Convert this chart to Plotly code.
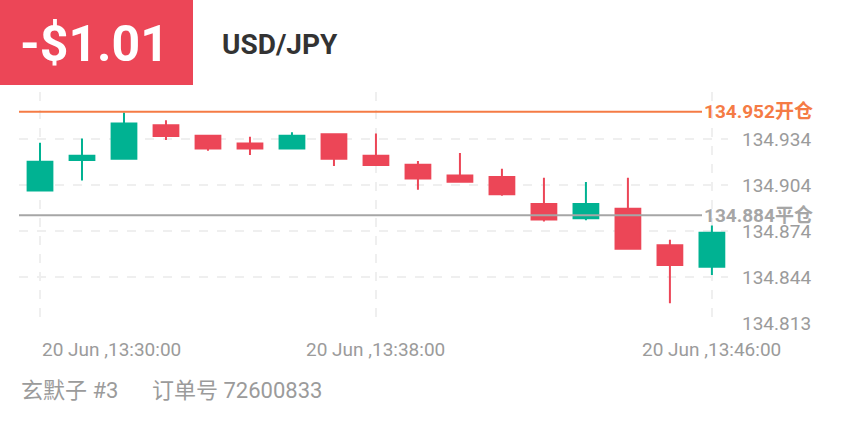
import plotly.graph_objects as go

# ---- data ----
times = ["2023-06-20 13:30", "2023-06-20 13:31", "2023-06-20 13:32", "2023-06-20 13:33",
         "2023-06-20 13:34", "2023-06-20 13:35", "2023-06-20 13:36", "2023-06-20 13:37",
         "2023-06-20 13:38", "2023-06-20 13:39", "2023-06-20 13:40", "2023-06-20 13:41",
         "2023-06-20 13:42", "2023-06-20 13:43", "2023-06-20 13:44", "2023-06-20 13:45",
         "2023-06-20 13:46"]
open_ = [134.9003, 134.9203, 134.9212, 134.9431, 134.9362, 134.9312, 134.9279, 134.9373,
         134.9231, 134.9172, 134.9101, 134.9092, 134.8914, 134.8820, 134.8883, 134.8644, 134.8503]
high = [134.9316, 134.9345, 134.9515, 134.9464, 134.9362, 134.9355, 134.9386, 134.9373,
        134.9377, 134.9196, 134.9249, 134.9146, 134.9086, 134.9058, 134.9086, 134.8679, 134.8773]
low = [134.8996, 134.9068, 134.9212, 134.9335, 134.9264, 134.9236, 134.9279, 134.9164,
       134.9164, 134.9007, 134.9061, 134.8968, 134.8799, 134.8807, 134.8616, 134.8262, 134.8448]
close = [134.9192, 134.9231, 134.9442, 134.9360, 134.9279, 134.9279, 134.9362, 134.9211,
         134.9170, 134.9081, 134.9061, 134.8979, 134.8812, 134.8914, 134.8620, 134.8514, 134.8725]

y_tickvals = [134.8133, 134.8435, 134.8737, 134.9039, 134.9341, 134.9643]
y_ticktext = ["134.813", "134.844", "134.874", "134.904", "134.934", ""]
x_tickvals = ["2023-06-20 13:30", "2023-06-20 13:38", "2023-06-20 13:46"]
x_ticktext = ["20 Jun ,13:30:00", "20 Jun ,13:38:00", "20 Jun ,13:46:00"]

open_level = 134.952
close_level = 134.884
open_label = "134.952开仓"
close_label = "134.884平仓"
pnl_text = "-$1.01"
symbol_text = "USD/JPY"
footer_left = "玄默子 #3"
footer_right = "订单号 72600833"

GREEN = "#00B292"
RED = "#EC4657"
ORANGE = "#F57B45"
GRAYLINE = "#A6A6A6"
TXT = "#9B9B9B"
GRID = "#EFEFEF"
FONT = "Roboto, 'Noto Sans CJK SC', sans-serif"

fig = go.Figure()
fig.add_trace(go.Candlestick(
    x=times, open=open_, high=high, low=low, close=close,
    increasing=dict(line=dict(color=GREEN, width=2), fillcolor=GREEN),
    decreasing=dict(line=dict(color=RED, width=2), fillcolor=RED),
    whiskerwidth=0, showlegend=False, hoverinfo="skip",
))

W, H = 844, 422
L, R, T, B = 19, 116, 92, 98
pw, ph = W - L - R, H - T - B


def px_x(px):
    return (px - L) / pw


def px_y(py):
    return (H - B - py) / ph


shapes = [
    dict(type="rect", xref="paper", yref="paper", x0=px_x(0), x1=px_x(193),
         y0=px_y(85), y1=px_y(0), fillcolor=RED, line=dict(width=0), layer="below"),
    dict(type="line", xref="paper", yref="y", x0=0, x1=px_x(702),
         y0=open_level, y1=open_level, line=dict(color=ORANGE, width=2)),
    dict(type="line", xref="paper", yref="y", x0=0, x1=px_x(702),
         y0=close_level, y1=close_level, line=dict(color=GRAYLINE, width=2)),
]

annotations = [
    dict(text=pnl_text, xref="paper", yref="paper", x=px_x(18), y=px_y(44),
         xanchor="left", yanchor="middle", showarrow=False,
         font=dict(family=FONT, size=50, color="white", weight="bold")),
    dict(text=symbol_text, xref="paper", yref="paper", x=px_x(220), y=px_y(44),
         xanchor="left", yanchor="middle", showarrow=False,
         font=dict(family=FONT, size=28, color="#333333", weight="bold")),
    dict(text=open_label, xref="paper", yref="y", x=px_x(702), y=open_level,
         xanchor="left", yanchor="middle", showarrow=False,
         font=dict(family=FONT, size=19, color=ORANGE, weight="bold")),
    dict(text=close_label, xref="paper", yref="y", x=px_x(702), y=close_level,
         xanchor="left", yanchor="middle", showarrow=False,
         font=dict(family=FONT, size=19, color=GRAYLINE, weight="bold")),
    dict(text=footer_left, xref="paper", yref="paper", x=px_x(19), y=px_y(390),
         xanchor="left", yanchor="middle", showarrow=False,
         font=dict(family=FONT, size=22, color=TXT)),
    dict(text=footer_right, xref="paper", yref="paper", x=px_x(150), y=px_y(390),
         xanchor="left", yanchor="middle", showarrow=False,
         font=dict(family=FONT, size=22, color=TXT)),
]
for i, (xv, xt) in enumerate(zip(x_tickvals, x_ticktext)):
    annotations.append(dict(
        text=xt, xref="x", yref="paper", x=xv, y=px_y(349),
        xanchor="left" if i == 0 else "center", yanchor="middle", showarrow=False,
        font=dict(family=FONT, size=19, color=TXT)))

ppu = 1523.0
fig.update_layout(
    width=W, height=H,
    margin=dict(l=L, r=R, t=T, b=B, pad=0),
    paper_bgcolor="white", plot_bgcolor="white",
    boxgap=0.41, boxgroupgap=0,
    shapes=shapes, annotations=annotations,
    xaxis=dict(
        type="date",
        range=["2023-06-20 13:29:30", "2023-06-20 13:46:23"],
        tickvals=x_tickvals, showticklabels=False,
        showgrid=True, gridcolor=GRID, gridwidth=2, griddash="dash",
        zeroline=False, showline=False, ticks="",
        rangeslider=dict(visible=False), fixedrange=True,
    ),
    yaxis=dict(
        side="right",
        range=[134.8133 - 1 / ppu, 134.9643 + 1 / ppu],
        tickvals=y_tickvals, ticktext=y_ticktext,
        tickfont=dict(family=FONT, size=19, color=TXT),
        showgrid=True, gridcolor=GRID, gridwidth=2, griddash="dash",
        zeroline=False, showline=False, ticks="", ticklabelstandoff=13,
        fixedrange=True,
    ),
)

fig.write_html("out.html", config=dict(displayModeBar=False),
               post_script="document.body.style.margin='0';")
